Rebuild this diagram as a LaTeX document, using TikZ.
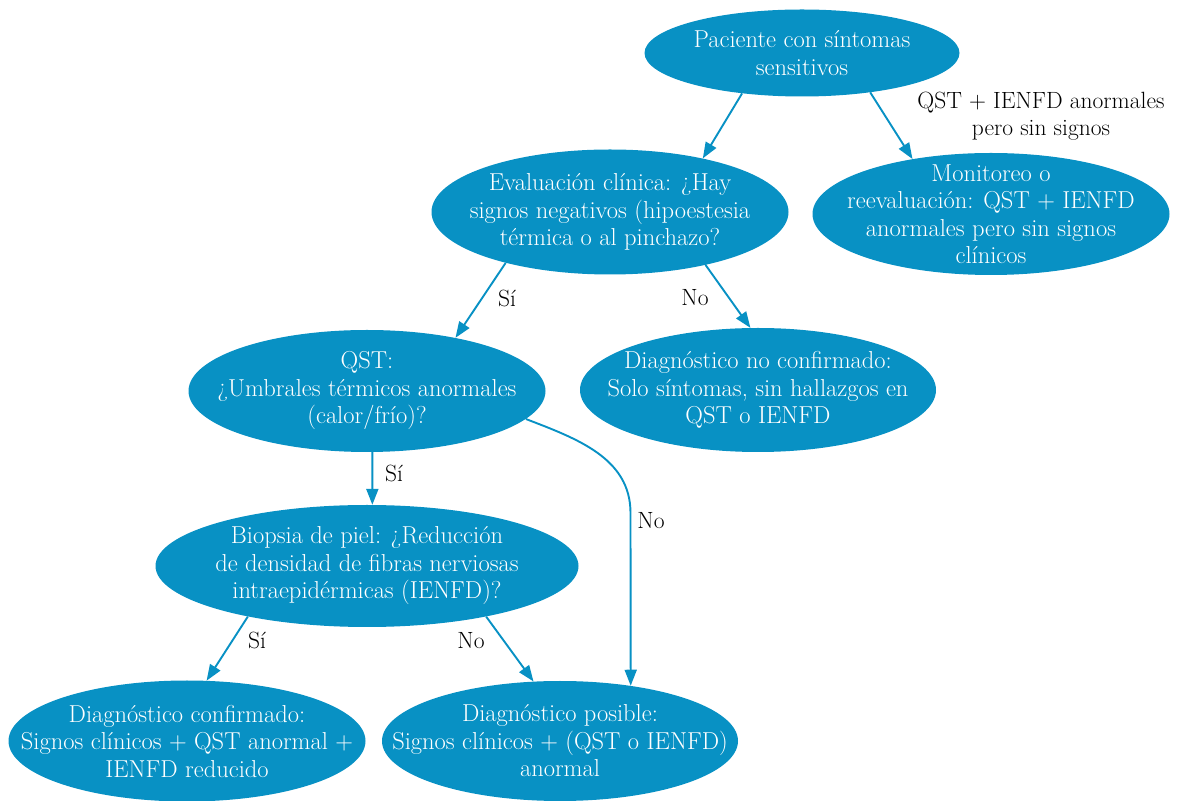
\documentclass[tikz,border=0pt]{standalone}
\usepackage{fontspec}
\usetikzlibrary{shapes.geometric,arrows.meta}
\definecolor{nodeblue}{HTML}{0891C4}
\begin{document}
\begin{tikzpicture}[x=1pt,y=1pt,
  ell/.style={ellipse,fill=nodeblue,draw=none,inner sep=0pt},
  elltext/.style={text=white,align=center,inner sep=0pt,font=\fontsize{24.5}{27.5}\selectfont},
  lbl/.style={text=black,align=center,font=\fontsize{23.5}{27}\selectfont,inner sep=0pt},
  conn/.style={draw=nodeblue,line width=1.9pt,-{Triangle[length=16pt,width=12pt]}}]
\useasboundingbox (0,0) rectangle (1179,801);
\node[ell,minimum width=315pt,minimum height=87pt,label={[elltext]center:Paciente con síntomas\\sensitivos}] (pac) at (802,748) {};
\node[ell,minimum width=357pt,minimum height=125pt,label={[elltext]center:Evaluación clínica: ¿Hay\\signos negativos (hipoestesia\\térmica o al pinchazo?}] (eval) at (610,589) {};
\node[ell,minimum width=357pt,minimum height=122pt,label={[elltext]center:Monitoreo o\\reevaluación: QST + IENFD\\anormales pero sin signos\\clínicos}] (mon) at (991,587) {};
\node[ell,minimum width=357pt,minimum height=122pt,label={[elltext]center:QST:\\¿Umbrales térmicos anormales\\(calor/frío)?}] (qst) at (367,410) {};
\node[ell,minimum width=356pt,minimum height=124pt,label={[elltext]center:Diagnóstico no confirmado:\\Solo síntomas, sin hallazgos en\\QST o IENFD}] (dno) at (758,411) {};
\node[ell,minimum width=423pt,minimum height=122pt,label={[elltext]center:Biopsia de piel: ¿Reducción\\de densidad de fibras nerviosas\\intraepidérmicas (IENFD)?}] (bio) at (367,235) {};
\node[ell,minimum width=357pt,minimum height=121pt,label={[elltext]center:Diagnóstico confirmado:\\Signos clínicos + QST anormal +\\IENFD reducido}] (conf) at (187,60) {};
\node[ell,minimum width=356pt,minimum height=120pt,label={[elltext]center:Diagnóstico posible:\\Signos clínicos + (QST o IENFD)\\anormal}] (pos) at (560,60) {};
\coordinate (nobend) at (630.5,288);
\draw[conn] (pac.214) -- (eval.30);
\draw[conn] (pac.330) -- (mon.145);
\draw[conn] (eval.206) -- (qst.31);
\draw[conn] (eval.331) -- (dno.97);
\draw[conn] (qst.275) -- (bio.85);
\draw[conn] (qst.350) to[out=-21,in=90,looseness=1] (nobend) -- (pos.38);
\draw[conn] (bio.203) -- (conf.72);
\draw[conn] (bio.337) -- (pos.114);
\node[lbl] (l1) at (1041,685) {QST + IENFD anormales\\pero sin signos};
\node[lbl] (l2) at (507,503) {Sí};
\node[lbl] (l3) at (695,503) {No};
\node[lbl] (l4) at (394,328) {Sí};
\node[lbl] (l5) at (651,280) {No};
\node[lbl] (l6) at (257,161) {Sí};
\node[lbl] (l7) at (471,160) {No};
\end{tikzpicture}
\end{document}
